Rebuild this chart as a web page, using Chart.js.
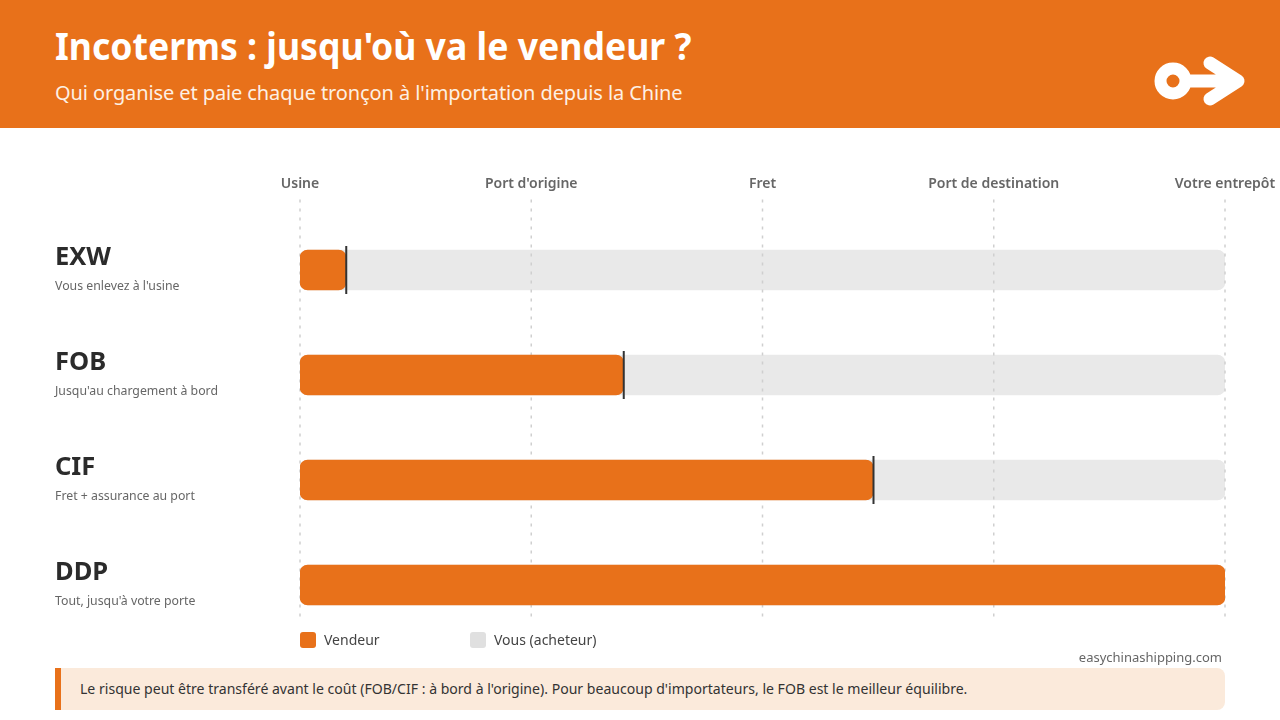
<!DOCTYPE html>
<html lang="fr">
<head>
<meta charset="utf-8">
<title>Incoterms</title>
<script src="https://cdn.jsdelivr.net/npm/chart.js@4"></script>
<style>
  * { box-sizing: border-box; }
  html, body { margin: 0; padding: 0; background: #fff; }
  body { width: 1280px; height: 720px; position: relative; overflow: hidden; font-family: "Noto Sans", sans-serif; }
  #chartWrap { position: absolute; left: 0; top: 0; width: 1280px; height: 720px; }
  .header { position: absolute; left: 0; top: 0; width: 1280px; height: 128px; background: #e8711a; color: #fff; }
  .header h1 { position: absolute; left: 55px; top: 20px; margin: 0; font-size: 38px; line-height: 50px; font-weight: 700; white-space: nowrap; transform: scaleX(0.937); transform-origin: left center; }
  .header p { position: absolute; left: 55px; top: 78px; margin: 0; font-size: 20px; line-height: 30px; letter-spacing: -0.1px; white-space: nowrap; color: #fdf0e4; }
  .header svg { position: absolute; left: 1149px; top: 50px; }
  .legend { position: absolute; top: 632px; height: 16px; font-size: 14px; line-height: 16px; color: #444; white-space: nowrap; padding-left: 24px; }
  .legend i { position: absolute; left: 0; top: 0; width: 16px; height: 16px; border-radius: 3px; }
  .source { position: absolute; right: 58px; top: 648px; font-size: 13px; line-height: 18px; color: #666; }
  .note { position: absolute; left: 55px; top: 668px; width: 1170px; height: 42px; background: #fbeadb; border-left: 6px solid #e8711a; border-radius: 0 8px 8px 0; padding-left: 19px; font-size: 14.07px; line-height: 42px; color: #333; white-space: nowrap; }
</style>
</head>
<body>
<div id="chartWrap"><canvas id="myChart" width="1280" height="720"></canvas></div>
<div class="header">
  <h1>Incoterms : jusqu'où va le vendeur ?</h1>
  <p>Qui organise et paie chaque tronçon à l'importation depuis la Chine</p>
  <svg width="110" height="70" viewBox="0 0 110 70">
    <circle cx="24" cy="31" r="12.5" fill="none" stroke="#fff" stroke-width="12"/>
    <path d="M42 31H88M61 13L89 31L61 49" fill="none" stroke="#fff" stroke-width="13" stroke-linecap="round" stroke-linejoin="round"/>
  </svg>
</div>
<div class="legend" id="legendSeller" style="left:300px"></div>
<div class="legend" id="legendBuyer" style="left:470px"></div>
<div class="source">easychinashipping.com</div>
<div class="note">Le risque peut être transféré avant le coût (FOB/CIF : à bord à l'origine). Pour beaucoup d'importateurs, le FOB est le meilleur équilibre.</div>

<script>
const incoterms = ['EXW', 'FOB', 'CIF', 'DDP'];
const incotermNotes = ["Vous enlevez à l'usine", "Jusqu'au chargement à bord", 'Fret + assurance au port', "Tout, jusqu'à votre porte"];
const sellerValues = [5, 35, 62, 100];
const trackValues = [100, 100, 100, 100];
const stageLabels = ['Usine', "Port d'origine", 'Fret', 'Port de destination', 'Votre entrepôt'];
const sellerLabel = 'Vendeur';
const buyerLabel = 'Vous (acheteur)';
const orange = '#e8711a';
const grey = '#e9e9e9';

// dotted verticals go between the grey tracks and the orange bars
const stageLines = {
  id: 'stageLines',
  beforeDatasetDraw(chart, args) {
    if (args.index !== 0) return;
    const ctx = chart.ctx;
    const xScale = chart.scales.x;
    ctx.save();
    ctx.strokeStyle = '#cfcfcf';
    ctx.lineWidth = 1.5;
    ctx.setLineDash([3, 6]);
    xScale.ticks.forEach((tick) => {
      const x = xScale.getPixelForValue(tick.value);
      ctx.beginPath();
      ctx.moveTo(x, chart.chartArea.top - 18);
      ctx.lineTo(x, chart.chartArea.bottom - 20);
      ctx.stroke();
    });
    ctx.restore();
  }
};

// black tick where the seller stops, nothing for DDP
const handover = {
  id: 'handover',
  afterDatasetsDraw(chart) {
    const ctx = chart.ctx;
    ctx.save();
    ctx.fillStyle = '#333';
    sellerValues.forEach((val, i) => {
      if (val >= 100) return;
      const x = chart.scales.x.getPixelForValue(val);
      const y = chart.scales.y.getPixelForValue(i);
      ctx.fillRect(x - 1, y - 24, 2, 48);
    });
    ctx.restore();
  }
};

// row names on the left, two font sizes so not possible with plain ticks
const rowLabels = {
  id: 'rowLabels',
  afterDraw(chart) {
    const ctx = chart.ctx;
    ctx.save();
    ctx.textAlign = 'left';
    ctx.textBaseline = 'middle';
    incoterms.forEach((name, i) => {
      const y = chart.scales.y.getPixelForValue(i);
      ctx.fillStyle = '#2b2b2b';
      ctx.font = '700 25.5px "Noto Sans"';
      ctx.fillText(name, 55, y - 12);
      ctx.fillStyle = '#666';
      ctx.font = '12.3px "Noto Sans"';
      ctx.fillText(incotermNotes[i], 55, y + 16);
    });
    ctx.restore();
  }
};

document.getElementById('legendSeller').innerHTML = '<i style="background:' + orange + '"></i>' + sellerLabel;
document.getElementById('legendBuyer').innerHTML = '<i style="background:#e0e0e0"></i>' + buyerLabel;

new Chart(document.getElementById('myChart').getContext('2d'), {
  type: 'bar',
  data: {
    labels: incoterms,
    datasets: [
      { label: sellerLabel, data: sellerValues, backgroundColor: orange, borderRadius: 8, borderSkipped: false, barThickness: 40, grouped: false, order: 1 },
      { label: buyerLabel, data: trackValues, backgroundColor: grey, borderRadius: 8, borderSkipped: false, barThickness: 40, grouped: false, order: 2 }
    ]
  },
  options: {
    indexAxis: 'y',
    responsive: false,
    animation: false,
    layout: { padding: { left: 300, right: 55, top: 174, bottom: 82.5 } },
    plugins: { legend: { display: false }, tooltip: { enabled: false } },
    scales: {
      x: {
        position: 'top',
        min: 0,
        max: 100,
        border: { display: false },
        grid: { display: false, drawTicks: false },
        afterBuildTicks(scale) {
          scale.ticks = stageLabels.map((label, i) => ({ value: i * 25 }));
        },
        // tick padding would otherwise eat into the plot width
        afterFit(scale) {
          scale.height = 43.5;
          scale.paddingLeft = 0;
          scale.paddingRight = 0;
        },
        ticks: {
          autoSkip: false,
          maxRotation: 0,
          padding: 25,
          color: '#666',
          font: { family: '"Noto Sans"', size: 14, weight: '600' },
          callback(value, i) { return stageLabels[i]; }
        }
      },
      y: { display: false, grid: { display: false } }
    }
  },
  plugins: [stageLines, handover, rowLabels]
});
</script>
</body>
</html>
